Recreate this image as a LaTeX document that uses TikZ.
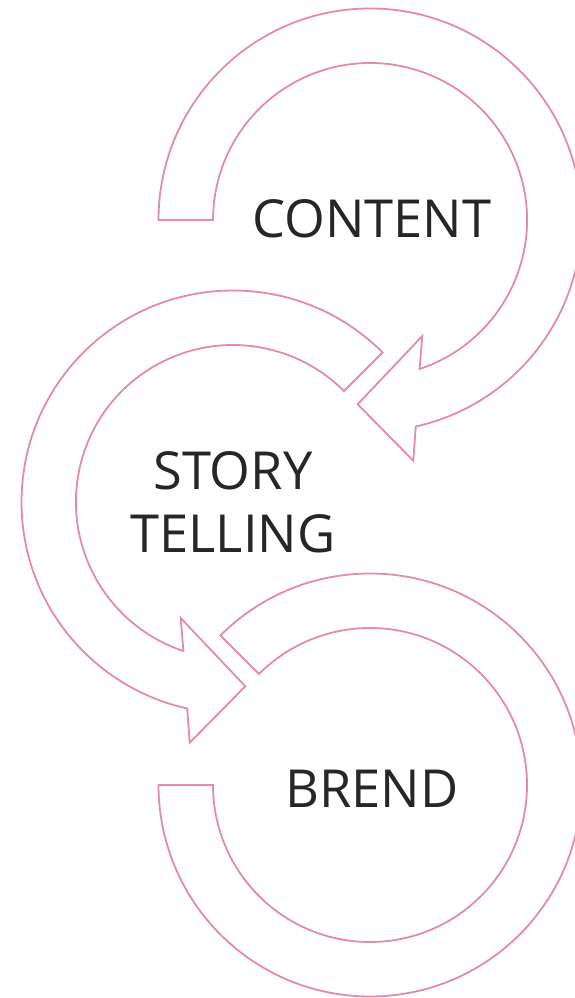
\documentclass[tikz,border=0pt]{standalone}
\usepackage{fontspec}
\setmainfont{Open Sans}
\usepackage{tikz}

\definecolor{bandpink}{HTML}{E38BAA}
\definecolor{wordgray}{HTML}{262626}

\begin{document}
\begin{tikzpicture}[x=1pt, y=1pt,
  arrowband/.style={draw=bandpink, line width=1.8pt, line join=miter, fill=white},
  word/.style={inner sep=0pt, text=wordgray, align=center, font=\fontsize{52.4}{63.4}\selectfont}]

\useasboundingbox (0,0) rectangle (574,998);

\coordinate (c1) at (370,778);
\coordinate (c2) at (233,496);
\coordinate (c3) at (370,213);

\draw[arrowband] (c1) ++(180:211.5) arc[start angle=180, end angle=-77.5, radius=211.5]
  -- (413.3,537.3) -- (357.7,593.7) -- (422.3,662) -- (419.6,629)
  arc[start angle=-71.6, end angle=180, radius=157] -- cycle;

\draw[arrowband] (c2) ++(45:211.5) arc[start angle=45, end angle=257.5, radius=211.5]
  -- (189.7,255.3) -- (245.3,311.7) -- (180.7,380) -- (183.4,347)
  arc[start angle=251.6, end angle=45, radius=157] -- cycle;

\draw[arrowband] (c3) ++(135:211.5) arc[start angle=135, end angle=-180, radius=211.5]
  -- ++(54.5,0) arc[start angle=-180, end angle=135, radius=157] -- cycle;

\node[word] (content) at (371.7,779.3) {CONTENT};
\node[word] (story) at (232.9,495.5) {STORY\\TELLING};
\node[word] (brend) at (371.7,209.3) {BREND};

\end{tikzpicture}
\end{document}
